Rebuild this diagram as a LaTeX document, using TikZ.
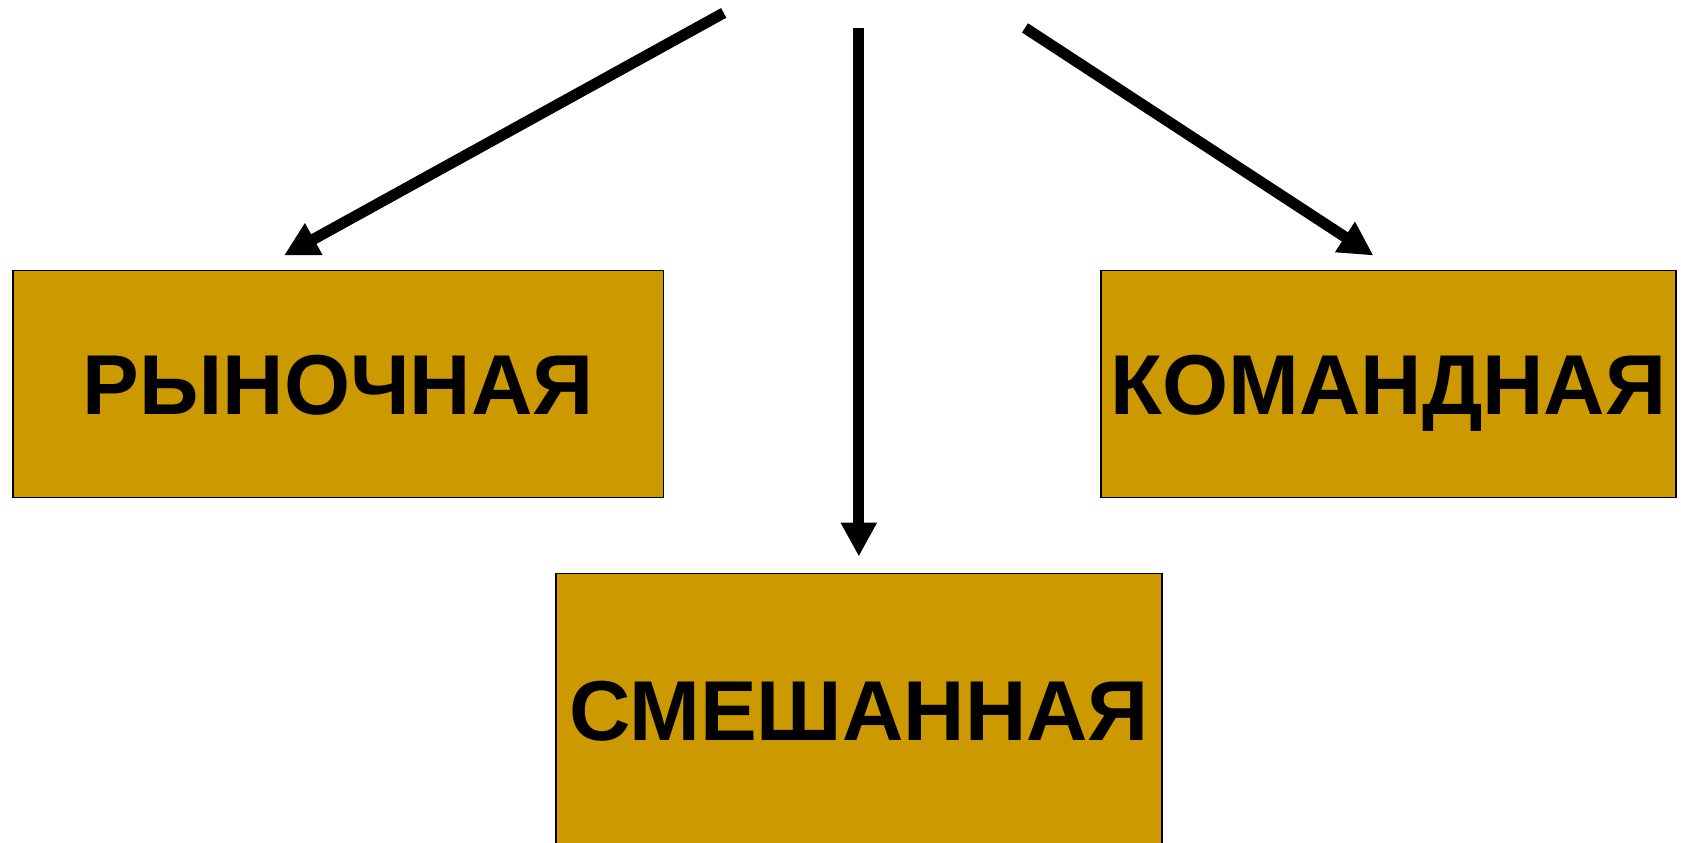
\documentclass[tikz,border=0pt]{standalone}
\usepackage{fontspec}
\setmainfont{Liberation Sans}
\usetikzlibrary{arrows.meta}
\definecolor{boxfill}{HTML}{CC9900}
\tikzset{
  catbox/.style={draw=black, line width=0.75pt, fill=boxfill, inner sep=0pt,
    font=\fontsize{42.5pt}{48pt}\selectfont\bfseries, text=black,
    text height=30.6pt, text depth=0pt},
  bigarrow/.style={line width=5.5pt, -{Triangle[length=17pt,width=17pt]}}
}
\begin{document}
\begin{tikzpicture}[x=0.5pt,y=-0.5pt]
\useasboundingbox (0,0) rectangle (1681,842);
\clip (0,0) rectangle (1681,842);
\node[catbox, minimum width=325.35pt, minimum height=113.5pt] (market) at (338.25,384) {РЫНОЧНАЯ};
\node[catbox, minimum width=287.5pt, minimum height=113.5pt] (command) at (1388.5,384) {КОМАНДНАЯ};
\node[catbox, minimum width=303pt, minimum height=136.75pt] (mixed) at (859,710) {СМЕШАННАЯ};
\coordinate (s1) at (723.7,12.9);
\coordinate (s2) at (858.8,27.9);
\coordinate (s3) at (1025,27.9);
\coordinate (t1) at (284,255.5);
\coordinate (t2) at (858.8,556.5);
\coordinate (t3) at (1373.4,255.5);
\draw[bigarrow] (s1) -- (t1);
\draw[bigarrow] (s2) -- (t2);
\draw[bigarrow] (s3) -- (t3);
\end{tikzpicture}
\end{document}
